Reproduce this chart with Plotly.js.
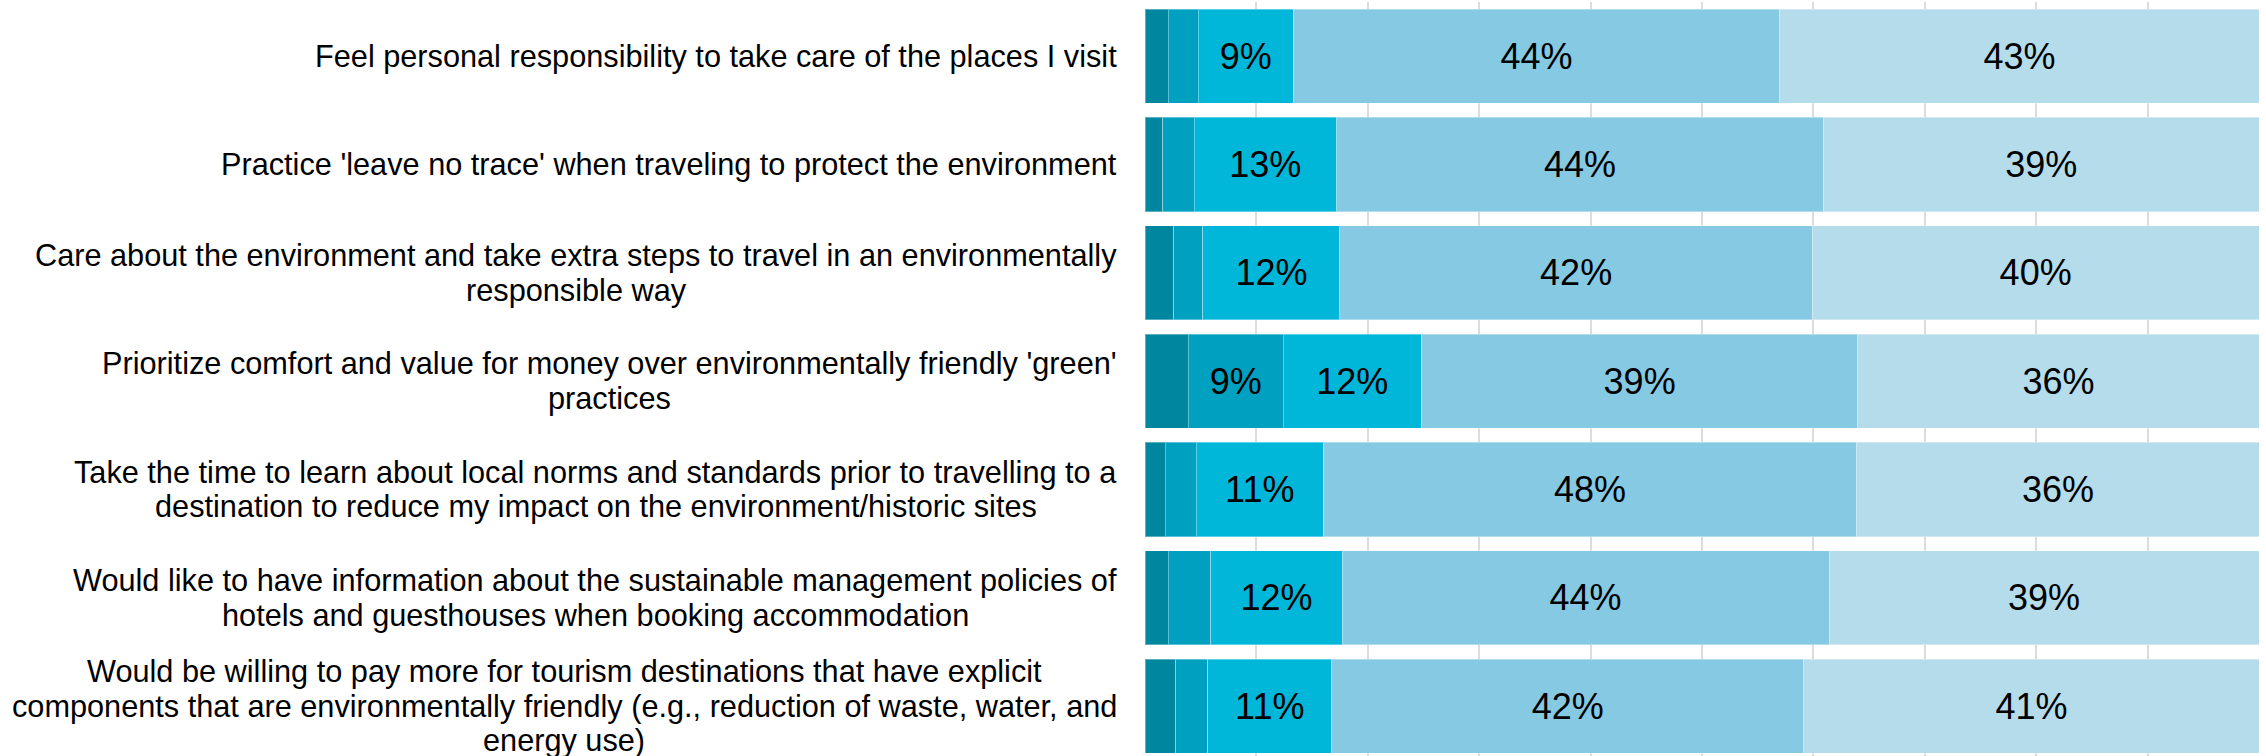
<!DOCTYPE html>
<html>
<head>
<meta charset="utf-8">
<script src="https://cdn.plot.ly/plotly-3.0.1.min.js"></script>
<style>html,body{margin:0;padding:0;background:#fff;}#chart{width:2266px;height:756px;}</style>
</head>
<body>
<div id="chart"></div>
<script>
// ---- data ----
const categories = [
  "Feel personal responsibility to take care of the places I visit",
  "Practice 'leave no trace' when traveling to protect the environment",
  "Care about the environment and take extra steps to travel in an environmentally<br>responsible way",
  "Prioritize comfort and value for money over environmentally friendly 'green'<br>practices",
  "Take the time to learn about local norms and standards prior to travelling to a<br>destination to reduce my impact on the environment/historic sites",
  "Would like to have information about the sustainable management policies of<br>hotels and guesthouses when booking accommodation",
  "Would be willing to pay more for tourism destinations that have explicit<br>components that are environmentally friendly (e.g., reduction of waste, water, and<br>energy use)"
];
const seriesNames = ["Strongly disagree", "Somewhat disagree", "Neither agree nor disagree", "Somewhat agree", "Strongly agree"];
const stronglyDisagree = [2.1, 1.6, 2.6, 3.9, 1.8, 2.1, 2.75];
const somewhatDisagree = [2.7, 2.8, 2.6, 8.5, 2.8, 3.8, 2.9];
const neutral          = [8.5, 12.8, 12.3, 12.4, 11.4, 11.8, 11.1];
const somewhatAgree    = [43.7, 43.7, 42.4, 39.2, 47.9, 43.7, 42.4];
const stronglyAgree    = [43.0, 39.1, 40.1, 36.0, 36.1, 38.6, 40.85];
const seriesValues = [stronglyDisagree, somewhatDisagree, neutral, somewhatAgree, stronglyAgree];
const colors = ["#00869E", "#00A0C1", "#00B7D9", "#86C9E3", "#B5DCEB"];

// ---- layout constants ----
const W = 2266, H = 756;
const M = {l: 1145, r: 7, t: 2, b: 0};
const labelFont = 30.7;
const labelLineGap = 34.7;
const labelRightPx = 1117;
const fontFamily = "'Liberation Sans', Arial, sans-serif";

const traces = seriesValues.map((vals, i) => ({
  type: 'bar',
  orientation: 'h',
  name: seriesNames[i],
  y: categories,
  x: vals,
  text: vals.map(v => v >= 5 ? Math.round(v) + '%' : ''),
  textposition: 'inside',
  insidetextanchor: 'middle',
  textfont: {family: fontFamily, size: 36, color: '#000000'},
  marker: {color: colors[i], line: {color: 'rgba(255,255,255,0.35)', width: 1}},
  hoverinfo: 'x+y+name'
}));

// measure text to build centered multi-line labels
const cv = document.createElement('canvas');
const ctx = cv.getContext('2d');
ctx.font = labelFont + "px 'Liberation Sans'";
const plotW = W - M.l - M.r;
const annotations = [];
categories.forEach((cat, ci) => {
  const lines = cat.split('<br>');
  const widths = lines.map(s => ctx.measureText(s).width);
  const blockW = Math.max(...widths);
  const centerPx = labelRightPx - blockW / 2;
  const n = lines.length;
  lines.forEach((ln, li) => {
    annotations.push({
      xref: 'paper', yref: 'y',
      x: (centerPx - M.l) / plotW,
      y: ci,
      xanchor: 'center', yanchor: 'middle',
      yshift: ((n - 1) / 2 - li) * labelLineGap,
      text: ln,
      showarrow: false,
      borderpad: 0,
      font: {family: fontFamily, size: labelFont, color: '#000000'}
    });
  });
});

const layout = {
  width: W, height: H,
  margin: M,
  barmode: 'stack',
  bargap: 0.132,
  showlegend: false,
  paper_bgcolor: '#ffffff',
  plot_bgcolor: '#ffffff',
  font: {family: fontFamily, color: '#000000'},
  xaxis: {
    range: [0, 100], dtick: 10, showgrid: true, gridcolor: '#dcdcdc', gridwidth: 2,
    zeroline: false, showticklabels: false, ticks: '', showline: false, fixedrange: true
  },
  yaxis: {
    type: 'category', range: [6.46, -0.5], showticklabels: false, ticks: '',
    showgrid: false, zeroline: false, showline: false, fixedrange: true
  },
  annotations: annotations
};

Plotly.newPlot('chart', traces, layout, {displayModeBar: false, staticPlot: true});
</script>
</body>
</html>
